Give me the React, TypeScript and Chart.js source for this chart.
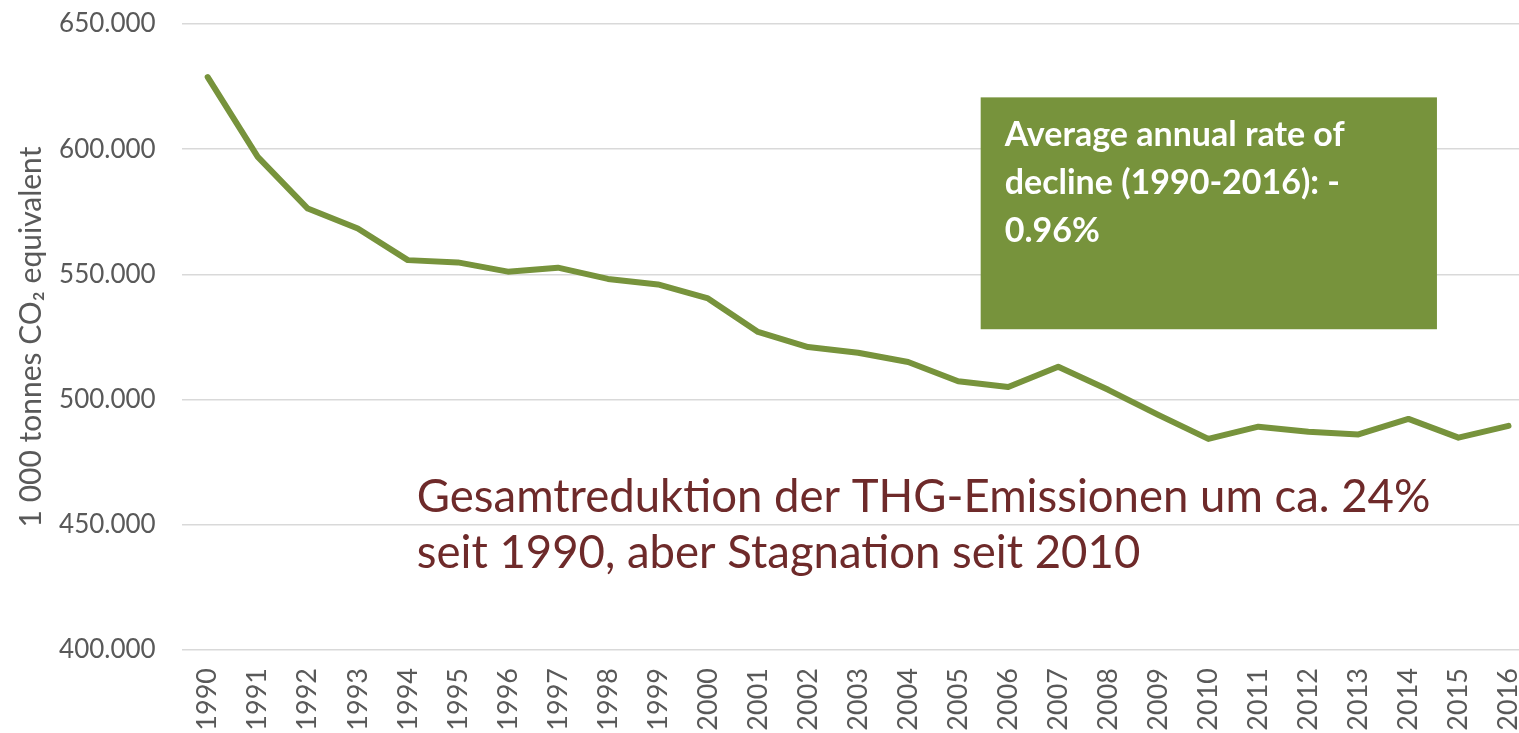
import React, { useEffect, useRef } from "react";
import { Chart, registerables } from "chart.js";

Chart.register(...registerables);

const years: number[] = [
  1990, 1991, 1992, 1993, 1994, 1995, 1996, 1997, 1998, 1999, 2000, 2001, 2002,
  2003, 2004, 2005, 2006, 2007, 2008, 2009, 2010, 2011, 2012, 2013, 2014, 2015, 2016,
];

// 1 000 tonnes CO2 equivalent
const emissions: number[] = [
  628800, 596900, 576300, 568300, 555700, 554800, 551100, 552700, 548200, 546000,
  540400, 527000, 521000, 518700, 515000, 507300, 505000, 513100, 503900, 493900,
  484300, 489200, 487200, 486100, 492300, 484800, 489500,
];

const yTickValues: number[] = [400000, 450000, 500000, 550000, 600000, 650000];

const yAxisTitle = "1 000 tonnes CO\u2082 equivalent";
const boxLines: string[] = ["Average annual rate of", "decline (1990-2016): -", "0.96%"];
const noteLines: string[] = [
  "Gesamtreduktion der THG-Emissionen um ca. 24%",
  "seit 1990, aber Stagnation seit 2010",
];

const formatDE = (v: number) =>
  String(Math.round(v)).replace(/\B(?=(\d{3})+(?!\d))/g, ".");

const annotationPlugin = {
  id: "annotations",
  afterDatasetsDraw(chart: any) {
    const { ctx, scales } = chart;
    const x = scales.x;
    const y = scales.y;
    ctx.save();
    // green box
    const bx1 = x.getPixelForValue(2005.45);
    const bx2 = x.getPixelForValue(2014.57);
    const by1 = y.getPixelForValue(620700);
    const by2 = y.getPixelForValue(528100);
    ctx.fillStyle = "#77933C";
    ctx.fillRect(bx1, by1, bx2 - bx1, by2 - by1);
    ctx.fillStyle = "#FFFFFF";
    ctx.font = "bold 34px Lato";
    ctx.textAlign = "left";
    ctx.textBaseline = "alphabetic";
    boxLines.forEach((line, i) => {
      ctx.fillText(line, bx1 + 24, by1 + 49 + i * 48);
    });
    // note text
    const nx = x.getPixelForValue(1994.18);
    const ny = y.getPixelForValue(455200);
    ctx.fillStyle = "#6E2A2A";
    ctx.font = "45.5px Lato";
    noteLines.forEach((line, i) => {
      ctx.fillText(line, nx, ny + i * 56.6);
    });
    ctx.restore();
  },
};

export default function App() {
  const canvasRef = useRef<HTMLCanvasElement | null>(null);

  useEffect(() => {
    if (!canvasRef.current) return;
    const chart = new Chart(canvasRef.current, {
      type: "line",
      data: {
        datasets: [
          {
            label: "THG-Emissionen",
            data: years.map((yr, i) => ({ x: yr, y: emissions[i] })),
            borderColor: "#77933C",
            backgroundColor: "#77933C",
            borderWidth: 6,
            pointRadius: 0,
            tension: 0,
            borderJoinStyle: "round",
            borderCapStyle: "round",
          },
        ],
      },
      options: {
        animation: false,
        responsive: true,
        maintainAspectRatio: false,
        layout: { padding: { top: 24, left: 0, right: 0, bottom: 0 } },
        plugins: {
          legend: { display: false },
          tooltip: { enabled: false },
        },
        scales: {
          x: {
            type: "linear",
            min: 1989.48,
            max: 2016.21,
            afterBuildTicks: (axis: any) => {
              axis.ticks = years.map((v) => ({ value: v }));
            },
            afterFit: (axis: any) => {
              axis.height = 83;
              axis.paddingLeft = 0;
              axis.paddingRight = 0;
            },
            grid: { display: false, drawTicks: false },
            border: { display: false },
            ticks: {
              autoSkip: false,
              minRotation: 90,
              maxRotation: 90,
              padding: 18,
              color: "#595959",
              font: { family: "Lato", size: 27 },
              callback: (v: any) => String(v),
            },
          },
          y: {
            min: 400000,
            max: 650000,
            afterBuildTicks: (axis: any) => {
              axis.ticks = yTickValues.map((v) => ({ value: v }));
            },
            afterFit: (axis: any) => {
              axis.width = 181.7;
              axis.paddingTop = 0;
              axis.paddingBottom = 0;
            },
            grid: { color: "#D9D9D9", lineWidth: 1.5, drawTicks: false },
            border: { display: false },
            ticks: {
              padding: 26,
              color: "#595959",
              font: { family: "Lato", size: 26 },
              callback: (v: any) => formatDE(Number(v)),
            },
            title: {
              display: true,
              text: yAxisTitle,
              color: "#595959",
              font: { family: "Lato", size: 30 },
              padding: { top: 13, bottom: 0 },
            },
          },
        },
      },
      plugins: [annotationPlugin],
    });
    return () => chart.destroy();
  }, []);

  return (
    <div
      style={{
        position: "fixed",
        left: 0,
        top: 0,
        width: "1519px",
        height: "733px",
        background: "#FFFFFF",
      }}
    >
      <canvas ref={canvasRef} />
    </div>
  );
}
